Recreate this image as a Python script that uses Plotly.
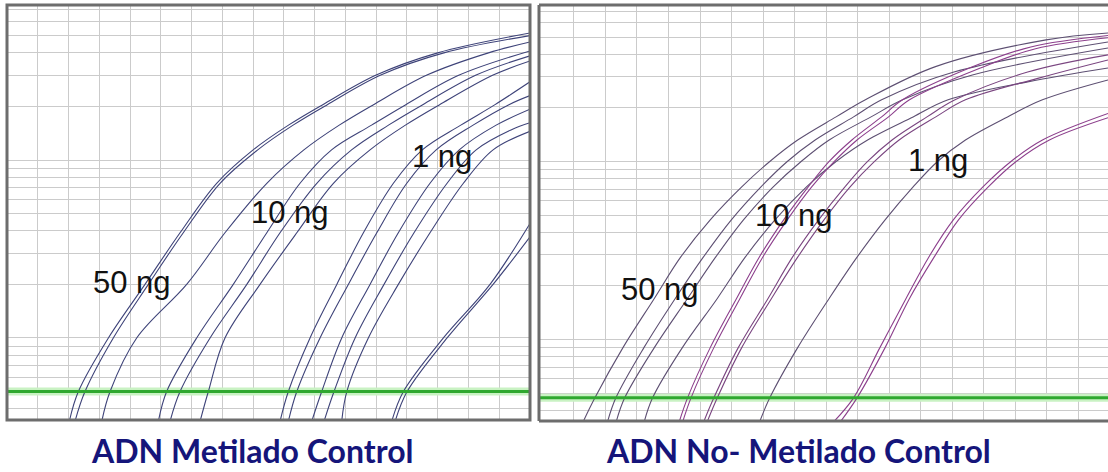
import numpy as np
import plotly.graph_objects as go

# ---------------- data ----------------
# Left panel: "ADN Metilado Control"  (cycles, relative fluorescence)
met_lvl = [0.034, 0.05, 0.10, 0.20, 0.39, 0.74]

met_A_cyc = [10.05, 10.64, 12.59, 14.97, 17.25, 19.63, 22.0, 24.3, 26.5, 30.0, 34.0, 40.0]
met_A_rfu = met_lvl + [1.14, 1.57, 2.04, 3.0, 4.0, 5.17]
met_B_cyc = [10.42, 11.07, 12.91, 15.19, 17.46, 19.85, 22.3, 24.6, 26.8, 30.3, 34.4, 40.0]
met_B_rfu = met_lvl + [1.14, 1.57, 2.04, 3.0, 4.0, 5.0]
met_C_cyc = [12.16, 12.70, 14.43, 17.68, 20.17, 22.89, 25.3, 27.6, 29.8, 33.3, 37.3, 40.0]
met_C_rfu = met_lvl + [1.14, 1.57, 2.04, 3.0, 4.0, 4.6]
met_D_cyc = [15.84, 16.38, 18.33, 20.71, 22.89, 25.05, 27.1, 29.7, 31.9, 35.4, 40.0]
met_D_rfu = met_lvl + [1.14, 1.57, 2.04, 3.0, 4.1]
met_E_cyc = [16.60, 17.25, 19.20, 21.59, 23.75, 26.14, 28.4, 30.8, 33.0, 36.5, 40.0]
met_E_rfu = met_lvl + [1.14, 1.57, 2.04, 3.0, 3.85]
met_F_cyc = [18.55, 19.09, 20.17, 22.45, 24.84, 27.22, 29.6, 31.9, 34.1, 37.6, 40.0]
met_F_rfu = met_lvl + [1.14, 1.57, 2.04, 3.0, 3.6]
met_G_cyc = [23.75, 24.29, 25.70, 27.44, 29.17, 31.12, 33.0, 35.5, 37.7, 40.0]
met_G_rfu = met_lvl + [1.14, 1.57, 2.04, 2.75]
met_H_cyc = [24.29, 24.84, 26.35, 28.19, 30.04, 31.99, 33.9, 36.3, 38.6, 40.0]
met_H_rfu = met_lvl + [1.14, 1.57, 2.04, 2.3]
met_I_cyc = [25.81, 26.46, 27.76, 29.60, 31.44, 33.50, 35.4, 37.8, 40.0]
met_I_rfu = met_lvl + [1.14, 1.57, 1.93]
met_K_cyc = [26.61, 27.26, 28.63, 30.51, 32.46, 34.61, 36.5, 38.8, 40.0]
met_K_rfu = met_lvl + [1.14, 1.48, 1.62]
met_J_cyc = [27.76, 28.09, 29.49, 31.44, 33.50, 35.67, 37.6, 40.0]
met_J_rfu = met_lvl + [1.14, 1.45]
met_L_cyc = [31.01, 31.77, 34.37, 37.40, 40.0]
met_L_rfu = [0.034, 0.05, 0.10, 0.20, 0.44]
met_M_cyc = [31.23, 32.01, 34.61, 37.60, 40.0]
met_M_rfu = [0.034, 0.05, 0.10, 0.20, 0.37]

# Right panel: "ADN No- Metilado Control"
unm_lvl = [0.034, 0.047, 0.09, 0.17, 0.29, 0.47, 0.72, 1.0, 1.32, 1.78, 2.22]

unm_1_cyc = [8.55, 9.33, 11.11, 13.10, 14.77, 16.65, 18.65, 20.43, 22.20, 24.64, 26.5, 30.95, 37.97, 41.9]
unm_1_rfu = unm_lvl + [3.41, 4.82, 5.27]
unm_2_cyc = [10.11, 10.66, 12.44, 14.43, 16.21, 17.99, 19.87, 21.54, 23.31, 25.75, 27.53, 32.12, 41.9]
unm_2_rfu = unm_lvl + [3.18, 4.69]
unm_3_cyc = [10.66, 11.22, 13.10, 15.21, 16.99, 18.76, 20.65, 22.42, 24.20, 26.86, 28.86, 33.29, 41.9]
unm_3_rfu = unm_lvl + [3.06, 4.34]
unm_4_cyc = [12.44, 12.99, 14.88, 17.10, 18.87, 20.76, 22.76, 24.64, 26.64, 29.53, 31.75, 36.80, 41.9]
unm_4_rfu = unm_lvl + [2.80, 3.35]
unm_5_cyc = [14.66, 15.21, 16.65, 18.32, 19.76, 21.31, 22.87, 24.20, 25.64, 27.53, 28.86, 33.3, 37.0, 41.9]
unm_5_rfu = unm_lvl + [3.4, 4.4, 5.1]
unm_6_cyc = [14.88, 15.43, 16.88, 18.54, 19.98, 21.54, 23.09, 24.53, 25.97, 27.97, 29.30, 33.8, 37.3, 41.9]
unm_6_rfu = unm_lvl + [3.35, 4.3, 4.95]
unm_7_cyc = [16.21, 16.88, 18.43, 20.32, 21.87, 23.53, 25.20, 26.64, 28.19, 30.41, 32.19, 36.80, 41.9]
unm_7_rfu = unm_lvl + [3.18, 3.97]
unm_8_cyc = [16.43, 17.10, 18.65, 20.54, 22.20, 23.87, 25.53, 27.08, 28.64, 30.97, 32.85, 37.50, 41.9]
unm_8_rfu = unm_lvl + [2.94, 3.72]
unm_9_cyc = [19.76, 20.43, 22.20, 24.20, 25.97, 27.75, 29.53, 31.08, 32.85, 35.52, 37.74, 41.9]
unm_9_rfu = unm_lvl + [2.87]
unm_10_cyc = [24.42, 25.75, 27.42, 29.08, 30.52, 32.08, 33.96, 35.74, 37.74, 41.9]
unm_10_rfu = unm_lvl[:9] + [1.86]
unm_11_cyc = [24.86, 25.97, 27.75, 29.30, 30.86, 32.41, 34.30, 36.07, 38.18, 41.9]
unm_11_rfu = unm_lvl[:9] + [1.76]

threshold_met = 0.05
threshold_unm = 0.047

titles = ["ADN Metilado Control", "ADN No- Metilado Control"]
labels = ["50 ng", "10 ng", "1 ng"]
met_label_cyc = [14.13, 24.40, 34.28]
met_label_rfu = [0.206, 0.51, 1.04]
unm_label_cyc = [13.43, 21.97, 31.08]
unm_label_rfu = [0.192, 0.497, 1.01]

grid_rfu = [0.04, 0.05, 0.06, 0.07, 0.08, 0.09,
            0.1, 0.2, 0.3, 0.4, 0.5, 0.6, 0.7, 0.8, 0.9,
            1, 2, 3, 4, 5, 6, 7]
met_grid_cyc = list(range(8, 40, 2))
unm_grid_cyc = list(range(8, 42, 2))

# ---------------- figure ----------------
W, H = 1108, 472
fig = go.Figure()

met_curves = [
    (met_A_cyc, met_A_rfu), (met_B_cyc, met_B_rfu), (met_C_cyc, met_C_rfu),
    (met_D_cyc, met_D_rfu), (met_E_cyc, met_E_rfu), (met_F_cyc, met_F_rfu),
    (met_G_cyc, met_G_rfu), (met_H_cyc, met_H_rfu), (met_I_cyc, met_I_rfu),
    (met_K_cyc, met_K_rfu), (met_J_cyc, met_J_rfu), (met_L_cyc, met_L_rfu),
    (met_M_cyc, met_M_rfu),
]
unm_curves = [
    (unm_1_cyc, unm_1_rfu, "#5d4f72"), (unm_2_cyc, unm_2_rfu, "#5d4f72"),
    (unm_3_cyc, unm_3_rfu, "#5d4f72"), (unm_4_cyc, unm_4_rfu, "#5d4f72"),
    (unm_5_cyc, unm_5_rfu, "#8c3f8c"), (unm_6_cyc, unm_6_rfu, "#8c3f8c"),
    (unm_7_cyc, unm_7_rfu, "#7a4580"), (unm_8_cyc, unm_8_rfu, "#7a4580"),
    (unm_9_cyc, unm_9_rfu, "#5d4f72"), (unm_10_cyc, unm_10_rfu, "#8c3f8c"),
    (unm_11_cyc, unm_11_rfu, "#8c3f8c"),
]

# threshold glow
fig.add_trace(go.Scatter(x=[6, 40], y=[threshold_met] * 2, mode="lines",
                         line=dict(color="#c9f2c3", width=8), xaxis="x", yaxis="y",
                         hoverinfo="skip", showlegend=False))
fig.add_trace(go.Scatter(x=[5.78, 41.9], y=[threshold_unm] * 2, mode="lines",
                         line=dict(color="#c9f2c3", width=8), xaxis="x2", yaxis="y2",
                         hoverinfo="skip", showlegend=False))

for cx, cy in met_curves:
    fig.add_trace(go.Scatter(x=cx, y=cy, mode="lines",
                             line=dict(color="#3e4379", width=1.1, shape="spline", smoothing=1.0),
                             xaxis="x", yaxis="y", showlegend=False, hoverinfo="skip"))
for cx, cy, col in unm_curves:
    fig.add_trace(go.Scatter(x=cx, y=cy, mode="lines",
                             line=dict(color=col, width=1.1, shape="spline", smoothing=1.0),
                             xaxis="x2", yaxis="y2", showlegend=False, hoverinfo="skip"))

fig.add_trace(go.Scatter(x=[6, 40], y=[threshold_met] * 2, mode="lines",
                         line=dict(color="#2fa82f", width=3), xaxis="x", yaxis="y",
                         hoverinfo="skip", showlegend=False))
fig.add_trace(go.Scatter(x=[5.78, 41.9], y=[threshold_unm] * 2, mode="lines",
                         line=dict(color="#2fa82f", width=3), xaxis="x2", yaxis="y2",
                         hoverinfo="skip", showlegend=False))

# panel geometry (pixels)
L_x0, L_x1, L_top, L_bot = 7, 530, 5, 420
R_x0, R_x1, R_top, R_bot = 539, 1108, 5, 421

def px(x):
    return x / W

def py(y):
    return 1 - y / H

grid_col = "#cbcbcb"
common_x = dict(showticklabels=False, ticks="", zeroline=False, showline=False,
                showgrid=True, gridcolor=grid_col, gridwidth=1, tickmode="array")
common_y = dict(type="log", showticklabels=False, ticks="", zeroline=False, showline=False,
                showgrid=True, gridcolor=grid_col, gridwidth=1, tickmode="array",
                tickvals=grid_rfu)

fig.update_layout(
    width=W, height=H,
    margin=dict(l=0, r=0, t=0, b=0),
    paper_bgcolor="white", plot_bgcolor="white",
    showlegend=False,
    xaxis=dict(domain=[px(L_x0), px(L_x1)], range=[6, 40], tickvals=met_grid_cyc,
               anchor="y", **common_x),
    yaxis=dict(domain=[py(L_bot), py(L_top)], range=[-1.461, 0.871], anchor="x", **common_y),
    xaxis2=dict(domain=[px(R_x0), 1.0], range=[5.78, 41.9], tickvals=unm_grid_cyc,
                anchor="y2", **common_x),
    yaxis2=dict(domain=[py(R_bot), py(R_top)], range=[-1.458, 0.879], anchor="x2", **common_y),
)

# frames
frame = dict(color="#6d6d6d", width=3)
fig.add_shape(type="rect", xref="paper", yref="paper",
              x0=px(L_x0), x1=px(L_x1), y0=py(L_bot), y1=py(L_top), line=frame)
for x0, y0, x1, y1 in [(R_x0, R_top, R_x1, R_top), (R_x0, R_top, R_x0, R_bot),
                       (R_x0, R_bot, R_x1, R_bot)]:
    fig.add_shape(type="line", xref="paper", yref="paper",
                  x0=px(x0), y0=py(y0), x1=px(x1), y1=py(y1), line=frame)

# labels inside panels
lab_font = dict(family="Liberation Sans, Arial, sans-serif", size=31, color="#111111")
for t, cx, cy in zip(labels, met_label_cyc, met_label_rfu):
    fig.add_annotation(x=cx, y=np.log10(cy), xref="x", yref="y", text=t,
                       showarrow=False, font=lab_font, xanchor="center", yanchor="middle")
for t, cx, cy in zip(labels, unm_label_cyc, unm_label_rfu):
    fig.add_annotation(x=cx, y=np.log10(cy), xref="x2", yref="y2", text=t,
                       showarrow=False, font=lab_font, xanchor="center", yanchor="middle")

# titles below panels
title_font = dict(family="Comic Sans MS, Lato, sans-serif", size=32, color="#15157a")
for t, cx in zip(titles, [252, 798]):
    fig.add_annotation(x=px(cx), y=py(450), xref="paper", yref="paper",
                       text="<b>" + t + "</b>", showarrow=False, font=title_font,
                       xanchor="center", yanchor="middle")

fig.write_html("out.html",
               config={"displayModeBar": False, "staticPlot": True},
               post_script="document.body.style.margin='0';document.body.style.overflow='hidden';")
